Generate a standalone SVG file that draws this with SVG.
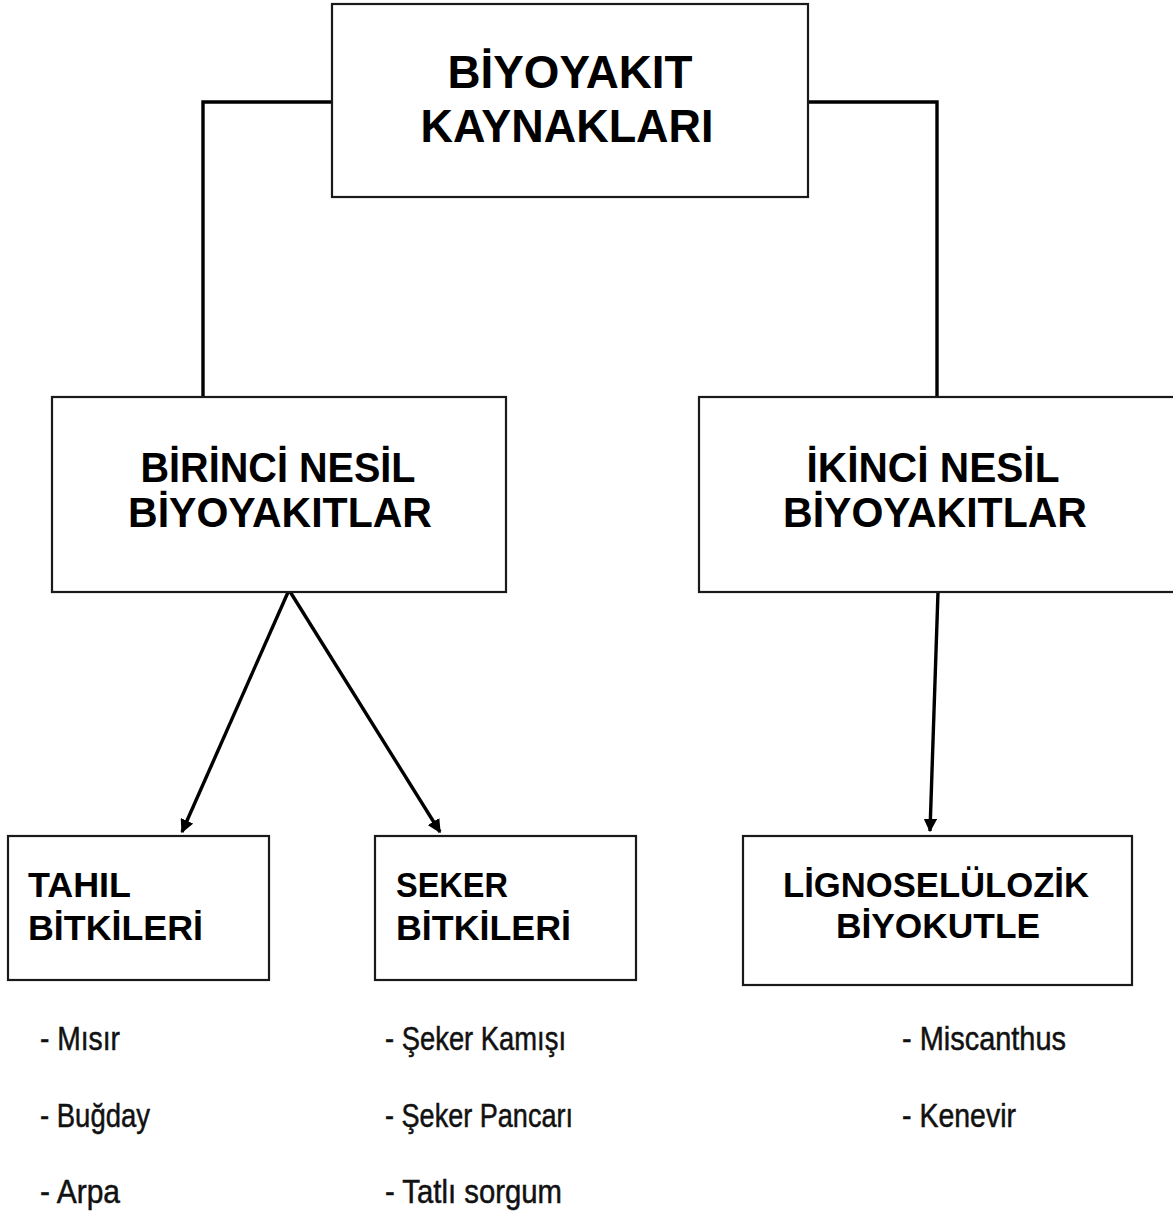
<svg xmlns="http://www.w3.org/2000/svg" width="1173" height="1213" viewBox="0 0 1173 1213">
<style>
.box{fill:#fff;stroke:#1a1a1a;stroke-width:2.2}
.h{font-family:"Liberation Sans",Arial,sans-serif;font-weight:bold;fill:#000}
.l{font-family:"Liberation Sans",Arial,sans-serif;fill:#111;font-size:33px;stroke:#111;stroke-width:0.5}
.c{fill:none;stroke:#000;stroke-width:3.4}
</style>
<defs>
<marker id="ah" viewBox="0 0 10 10" refX="9" refY="5" markerWidth="4" markerHeight="4" orient="auto" markerUnits="strokeWidth">
<path d="M0,0 L10,5 L0,10 z" fill="#000"/>
</marker>
</defs>
<rect width="1173" height="1213" fill="#fff"/>
<g id="connectors">
<polyline class="c" points="332,102 203,102 203,397"/>
<polyline class="c" points="808,102 937,102 937,397"/>
<line class="c" x1="289" y1="590" x2="182" y2="832" marker-end="url(#ah)"/>
<line class="c" x1="289" y1="590" x2="440" y2="832" marker-end="url(#ah)"/>
<line class="c" x1="938" y1="592" x2="930" y2="831" marker-end="url(#ah)"/>
</g>
<g id="n-root">
<rect class="box" x="332" y="4" width="476" height="193"/>
<text class="h" font-size="46" x="570" y="88" text-anchor="middle" textLength="245" lengthAdjust="spacingAndGlyphs">BİYOYAKIT</text>
<text class="h" font-size="46" x="567" y="142" text-anchor="middle" textLength="293" lengthAdjust="spacingAndGlyphs">KAYNAKLARI</text>
</g>
<g id="n-birinci">
<rect class="box" x="52" y="397" width="454" height="195"/>
<text class="h" font-size="42" x="278" y="482" text-anchor="middle" textLength="275" lengthAdjust="spacingAndGlyphs">BİRİNCİ NESİL</text>
<text class="h" font-size="42" x="280" y="527" text-anchor="middle" textLength="304" lengthAdjust="spacingAndGlyphs">BİYOYAKITLAR</text>
</g>
<g id="n-ikinci">
<rect class="box" x="699" y="397" width="480" height="195"/>
<text class="h" font-size="42" x="933" y="482" text-anchor="middle" textLength="253" lengthAdjust="spacingAndGlyphs">İKİNCİ NESİL</text>
<text class="h" font-size="42" x="935" y="527" text-anchor="middle" textLength="304" lengthAdjust="spacingAndGlyphs">BİYOYAKITLAR</text>
</g>
<g id="n-tahil">
<rect class="box" x="8" y="836" width="261" height="144"/>
<text class="h" font-size="35" x="28" y="897" textLength="103" lengthAdjust="spacingAndGlyphs">TAHIL</text>
<text class="h" font-size="35" x="28" y="940" textLength="175" lengthAdjust="spacingAndGlyphs">BİTKİLERİ</text>
</g>
<g id="n-seker">
<rect class="box" x="375" y="836" width="261" height="144"/>
<text class="h" font-size="35" x="396" y="897" textLength="112" lengthAdjust="spacingAndGlyphs">SEKER</text>
<text class="h" font-size="35" x="396" y="940" textLength="175" lengthAdjust="spacingAndGlyphs">BİTKİLERİ</text>
</g>
<g id="n-ligno">
<rect class="box" x="743" y="836" width="389" height="149"/>
<text class="h" font-size="35" x="936" y="897" text-anchor="middle" textLength="306" lengthAdjust="spacingAndGlyphs">LİGNOSELÜLOZİK</text>
<text class="h" font-size="35" x="938" y="938" text-anchor="middle" textLength="204" lengthAdjust="spacingAndGlyphs">BİYOKUTLE</text>
</g>
<g id="lists">
<text class="l" x="40" y="1050" textLength="80" lengthAdjust="spacingAndGlyphs">- Mısır</text>
<text class="l" x="40" y="1127" textLength="110" lengthAdjust="spacingAndGlyphs">- Buğday</text>
<text class="l" x="40" y="1203" textLength="80" lengthAdjust="spacingAndGlyphs">- Arpa</text>
<text class="l" x="385" y="1050" textLength="181" lengthAdjust="spacingAndGlyphs">- Şeker Kamışı</text>
<text class="l" x="385" y="1127" textLength="188" lengthAdjust="spacingAndGlyphs">- Şeker Pancarı</text>
<text class="l" x="385" y="1203" textLength="177" lengthAdjust="spacingAndGlyphs">- Tatlı sorgum</text>
<text class="l" x="902" y="1050" textLength="164" lengthAdjust="spacingAndGlyphs">- Miscanthus</text>
<text class="l" x="902" y="1127" textLength="114" lengthAdjust="spacingAndGlyphs">- Kenevir</text>
</g>
</svg>
